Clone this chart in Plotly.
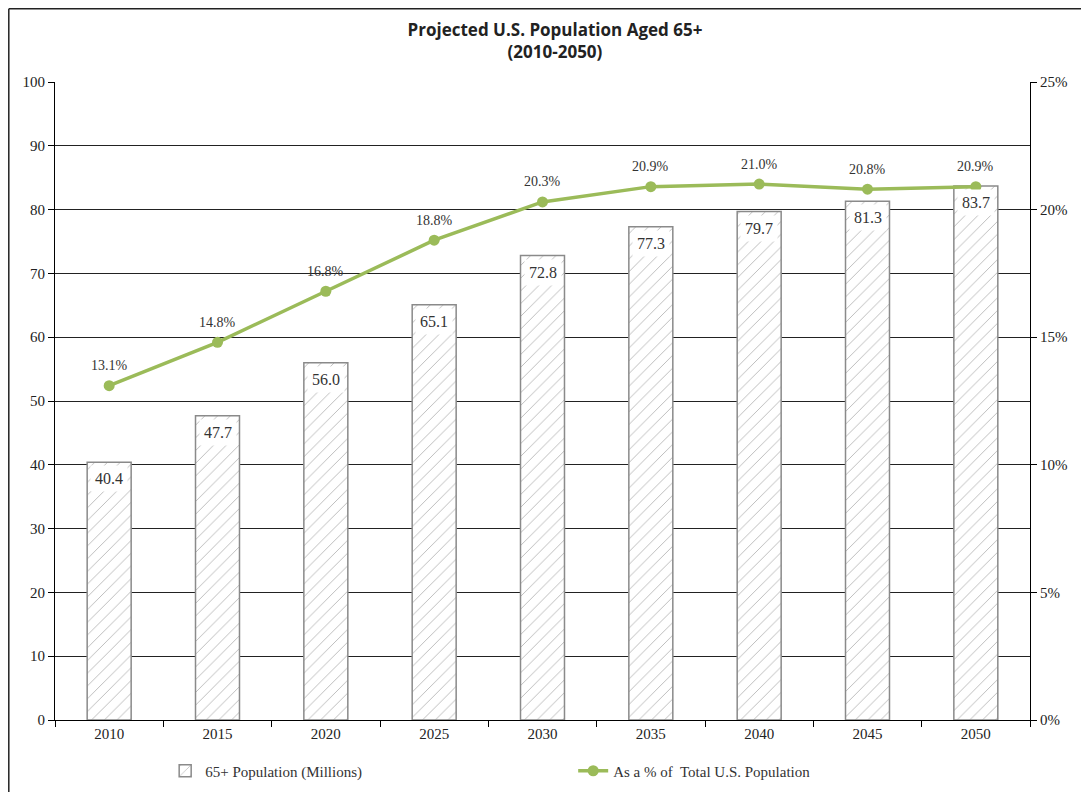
import plotly.graph_objects as go

years = ["2010", "2015", "2020", "2025", "2030", "2035", "2040", "2045", "2050"]
population_millions = [40.4, 47.7, 56.0, 65.1, 72.8, 77.3, 79.7, 81.3, 83.7]
pct_of_total = [13.1, 14.8, 16.8, 18.8, 20.3, 20.9, 21.0, 20.8, 20.9]
left_ticks = [0, 10, 20, 30, 40, 50, 60, 70, 80, 90, 100]
right_ticks = [0, 5, 10, 15, 20, 25]

SERIF = "Liberation Serif, Times New Roman, serif"
GREEN = "#9BBB59"
W, H = 1081, 784
ML, MR, MT, MB = 47, 59, 74, 72
PW, PH = W - ML - MR, H - MT - MB

fig = go.Figure()
fig.add_trace(go.Bar(
    x=years, y=population_millions, name="65+ Population (Millions)",
    marker=dict(color="white", line=dict(color="#8a8a8a", width=1.5),
                pattern=dict(shape="/", fgcolor="#6e6e6e", bgcolor="white",
                             size=9, solidity=0.1)),
    yaxis="y",
))
fig.add_trace(go.Scatter(
    x=years, y=pct_of_total, name="As a % of  Total U.S. Population",
    mode="lines+markers",
    line=dict(color=GREEN, width=3.5), marker=dict(color=GREEN, size=11),
    yaxis="y2",
))

for i, v in enumerate(population_millions):
    fig.add_annotation(x=i, xref="x", y=v, yref="y", text=f"{v:.1f}", showarrow=False,
                       yanchor="top", yshift=-3, bgcolor="white",
                       font=dict(family=SERIF, size=16, color="#333"),
                       borderpad=4)

for i, p in enumerate(pct_of_total):
    fig.add_annotation(x=i, xref="x", y=p, yref="y2", text=f"{p:.1f}%", showarrow=False,
                       yanchor="middle", yshift=20,
                       font=dict(family=SERIF, size=14, color="#333"))

# outer chart-area border (only left and top edges are visible in the reference)
bx = (0.8 - ML) / PW
by = (PH + MT - 0.8) / PH
fig.add_shape(type="line", xref="paper", yref="paper", x0=bx, x1=1.3, y0=by, y1=by,
              line=dict(color="#222", width=1.5), layer="below")
fig.add_shape(type="line", xref="paper", yref="paper", x0=bx, x1=bx, y0=-0.4, y1=by,
              line=dict(color="#222", width=1.5), layer="below")

fig.update_layout(
    width=W, height=H,
    margin=dict(l=ML, r=MR, t=MT, b=MB),
    paper_bgcolor="white", plot_bgcolor="white",
    title=dict(text="<b>Projected U.S. Population Aged 65+<br>(2010-2050)</b>",
               x=0.506, xanchor="center", y=1 - 28 / H, yanchor="middle",
               font=dict(family="Open Sans, Liberation Sans, sans-serif", size=17, color="#222")),
    bargap=0.594,
    showlegend=True,
    legend=dict(orientation="h", x=0.113, xanchor="left", yref="container",
                y=1 - 763 / H, yanchor="middle",
                entrywidth=363, font=dict(family=SERIF, size=15, color="#333"),
                traceorder="normal"),
    xaxis=dict(type="category", range=[-0.5, 8.5], showline=True, linecolor="black", linewidth=1,
               ticks="outside", tickson="boundaries", ticklen=6, tickcolor="black",
               tickangle=0,
               tickfont=dict(family=SERIF, size=15, color="#222"), showgrid=False),
    yaxis=dict(range=[0, 100], tickvals=left_ticks, showline=True, linecolor="black",
               linewidth=1, ticks="outside", ticklen=6, tickcolor="black",
               showgrid=True, gridcolor="#222", gridwidth=1, zeroline=False,
               tickfont=dict(family=SERIF, size=15, color="#222")),
    yaxis2=dict(range=[0, 25], tickvals=right_ticks, ticktext=[f"{t}%" for t in right_ticks],
                overlaying="y", side="right", showline=True, linecolor="black",
                linewidth=1, ticks="outside", ticklen=6, tickcolor="black",
                showgrid=False, zeroline=False,
                tickfont=dict(family=SERIF, size=15, color="#222")),
)

fig.write_html("out.html")
